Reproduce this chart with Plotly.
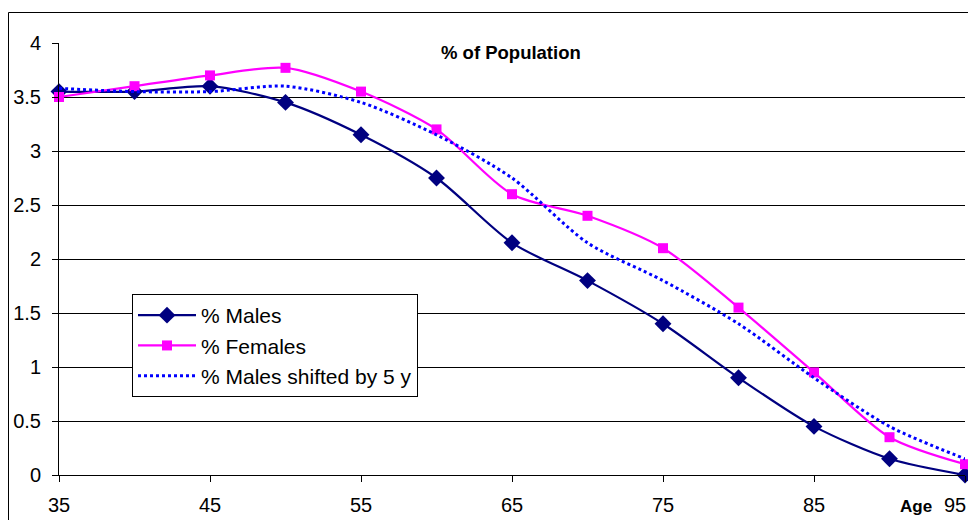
import plotly.graph_objects as go

ages = [35, 40, 45, 50, 55, 60, 65, 70, 75, 80, 85, 90, 95]
males = [3.55, 3.55, 3.6, 3.45, 3.15, 2.75, 2.15, 1.8, 1.4, 0.9, 0.45, 0.15, 0.0]
females = [3.5, 3.6, 3.7, 3.77, 3.55, 3.2, 2.6, 2.4, 2.1, 1.55, 0.95, 0.35, 0.1]
males_shifted = [3.58, 3.55, 3.55, 3.6, 3.45, 3.15, 2.75, 2.15, 1.8, 1.4, 0.9, 0.45, 0.15]
y_ticks = [0, 0.5, 1, 1.5, 2, 2.5, 3, 3.5, 4]
y_tick_labels = ["0", "0.5", "1", "1.5", "2", "2.5", "3", "3.5", "4"]
x_ticks = [35, 45, 55, 65, 75, 85, 95]
x_tick_labels = ["35", "45", "55", "65", "75", "85", "95"]

W, H = 968, 520
L, T, R, B = 59, 43, 3, 45
PW, PH = W - L - R, H - T - B


def px(x):
    return (x - L) / PW


def py(y):
    return (H - B - y) / PH


fig = go.Figure()
fig.add_trace(go.Scatter(
    x=ages, y=males, name="% Males", mode="lines+markers",
    line=dict(color="#000080", width=2.2, shape="spline", smoothing=0.8),
    marker=dict(symbol="diamond", size=13, color="#000080"),
    cliponaxis=False))
fig.add_trace(go.Scatter(
    x=ages, y=females, name="% Females", mode="lines+markers",
    line=dict(color="#FF00FF", width=2.2, shape="spline", smoothing=0.8),
    marker=dict(symbol="square", size=10, color="#FF00FF"),
    cliponaxis=False))
fig.add_trace(go.Scatter(
    x=ages, y=males_shifted, name="% Males shifted by 5 y", mode="lines",
    line=dict(color="#0000FF", width=3, dash="dot", shape="spline", smoothing=0.8),
    cliponaxis=False))

# last x tick label sits at the right edge; draw it as an annotation so it
# neither pushes the margin nor gets cut off
edge_label = x_tick_labels[-1]
shown_tick_labels = x_tick_labels[:-1] + [""]

fig.update_layout(
    width=W, height=H, autosize=False,
    margin=dict(l=L, r=R, t=T, b=B, autoexpand=False),
    paper_bgcolor="white", plot_bgcolor="white",
    font=dict(family="Arial, Liberation Sans", size=20, color="black"),
    showlegend=True,
    legend=dict(x=px(132), y=py(294), xanchor="left", yanchor="top",
                bordercolor="black", borderwidth=1, bgcolor="white",
                font=dict(size=21), tracegroupgap=0, itemwidth=58),
    annotations=[
        dict(text="<b>% of Population</b>", xref="paper", yref="paper",
             x=px(510.5), y=py(52), showarrow=False,
             font=dict(size=18.5), xanchor="center", yanchor="middle"),
        dict(text="<b>Age</b>", xref="paper", yref="paper",
             x=px(915.5), y=py(507), showarrow=False,
             font=dict(size=17), xanchor="center", yanchor="middle"),
        dict(text=edge_label, xref="paper", yref="paper",
             x=px(968), y=py(505), showarrow=False,
             font=dict(size=20), xanchor="right", yanchor="middle"),
    ],
    shapes=[dict(type="rect", xref="paper", yref="paper",
                 x0=px(8.5), x1=1.2, y0=-0.3, y1=py(12.5),
                 line=dict(color="black", width=1), layer="below")],
)
fig.update_xaxes(range=[35, 95], tickvals=x_ticks, ticktext=shown_tick_labels,
                 ticks="outside", ticklen=6,
                 tickcolor="black", showline=True, linecolor="black", linewidth=1,
                 showgrid=False, zeroline=False, tickfont=dict(size=20),
                 ticklabelstandoff=6, automargin=False)
fig.update_yaxes(range=[0, 4], tickvals=y_ticks, ticktext=y_tick_labels,
                 ticks="outside", ticklen=6, tickcolor="black",
                 showline=True, linecolor="black", linewidth=1,
                 showgrid=True, gridcolor="black", gridwidth=1, zeroline=False,
                 tickfont=dict(size=20), ticklabelstandoff=7, automargin=False)

page_fix = (
    "document.documentElement.style.margin='0';"
    "document.documentElement.style.padding='0';"
    "document.documentElement.style.overflow='hidden';"
    "document.body.style.margin='0';"
    "document.body.style.padding='0';"
    "document.body.style.overflow='hidden';"
)
fig.write_html("out.html", config={"responsive": False, "displayModeBar": False},
               post_script=page_fix)
